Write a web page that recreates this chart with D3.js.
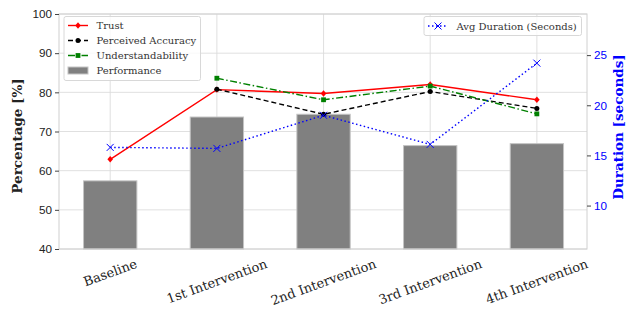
<!DOCTYPE html>
<html>
<head>
<meta charset="utf-8">
<script src="https://cdn.jsdelivr.net/npm/d3@7"></script>
<style>
  body { margin: 0; background: #fff; }
  svg { font-family: "DejaVu Serif", serif; }
</style>
</head>
<body>
<svg id="chart" width="627" height="309"></svg>
<script>
const categories = ["Baseline", "1st Intervention", "2nd Intervention", "3rd Intervention", "4th Intervention"]
const performance = [57.4, 73.7, 74.4, 66.4, 66.9]
const trust = [62.9, 80.7, 79.7, 82.0, 78.1]
const accuracy = [null, 80.8, 74.4, 80.2, 75.9]
const understand = [null, 83.6, 78.1, 81.6, 74.5]
const duration = [15.8, 15.7, 19.0, 16.1, 24.2]
const leftTicks = [40, 50, 60, 70, 80, 90, 100]
const rightTicks = [10, 15, 20, 25]

let svg = d3.select("#chart")
let L = 59, R = 587, T = 14, B = 249

let x = d3.scaleLinear().domain([-0.48, 4.47]).range([L, R])
let y = d3.scaleLinear().domain([40, 100]).range([B, T])
let y2 = d3.scaleLinear().domain([5.67, 29.1]).range([B, T])

//grid
let grid = svg.append("g").attr("stroke", "#dcdcdc").attr("stroke-width", 0.9)
grid.selectAll(".gy").data(leftTicks).enter().append("line")
  .attr("x1", L).attr("x2", R).attr("y1", d => y(d)).attr("y2", d => y(d))
grid.selectAll(".gx").data(categories).enter().append("line")
  .attr("x1", (d, i) => x(i)).attr("x2", (d, i) => x(i)).attr("y1", T).attr("y2", B)

//bars
let bw = x(0.5) - x(0)
svg.append("g").selectAll("rect").data(performance).enter().append("rect")
  .attr("x", (d, i) => x(i) - bw / 2)
  .attr("width", bw)
  .attr("y", d => y(d))
  .attr("height", d => y(40) - y(d))
  .attr("fill", "#808080")
  .attr("stroke", "#c4c4c4")
  .attr("stroke-width", 1)

//spines
svg.append("rect").attr("x", L).attr("y", T).attr("width", R - L).attr("height", B - T)
  .attr("fill", "none").attr("stroke", "#d0d0d0").attr("stroke-width", 1)

//axes
let leftAxis = svg.append("g").attr("transform", `translate(${L},0)`)
  .call(d3.axisLeft(y).tickValues(leftTicks).tickSize(4).tickPadding(3))
leftAxis.select(".domain").remove()
leftAxis.selectAll("line").attr("stroke", "#444")
leftAxis.selectAll("text").attr("fill", "#222").style("font-size", "11.7px")

let rightAxis = svg.append("g").attr("transform", `translate(${R},0)`)
  .call(d3.axisRight(y2).tickValues(rightTicks).tickSize(4).tickPadding(3))
rightAxis.select(".domain").remove()
rightAxis.selectAll("line").attr("stroke", "#444")
rightAxis.selectAll("text").attr("fill", "blue").style("font-size", "11.7px")

//x labels, rotated 20 deg, centred on tick
let xl = svg.append("g")
categories.forEach((c, i) => {
  let t = xl.append("text").text(c)
    .style("font-size", "13px").attr("fill", "#222")
    .attr("text-anchor", "middle").attr("dominant-baseline", "central")
  let w = t.node().getComputedTextLength()
  let a = 20 * Math.PI / 180
  let h = 13
  let cy = B + 8 + (w * Math.sin(a) + h * Math.cos(a)) / 2
  t.attr("transform", `translate(${x(i)},${cy}) rotate(-20)`)
})

//axis titles
svg.append("text").text("Percentage [%]")
  .attr("transform", "translate(21.5,136) rotate(-90)")
  .attr("text-anchor", "middle")
  .style("font-size", "13.5px").style("font-weight", "bold").attr("fill", "#222")
svg.append("text").text("Duration [seconds]")
  .attr("transform", "translate(623,127) rotate(-90)")
  .attr("text-anchor", "middle")
  .style("font-size", "13.5px").style("font-weight", "bold").attr("fill", "blue")

//markers
let marker = (g, type, color, cx, cy) => {
  if (type === "diamond") {
    g.append("path").attr("d", `M${cx},${cy - 3.2}L${cx + 2.8},${cy}L${cx},${cy + 3.2}L${cx - 2.8},${cy}Z`).attr("fill", color)
  } else if (type === "circle") {
    g.append("circle").attr("cx", cx).attr("cy", cy).attr("r", 2.5).attr("fill", color)
  } else if (type === "square") {
    g.append("rect").attr("x", cx - 2.4).attr("y", cy - 2.4).attr("width", 4.8).attr("height", 4.8).attr("fill", color)
  } else if (type === "x") {
    g.append("path").attr("d", `M${cx - 3.5},${cy - 3.5}L${cx + 3.5},${cy + 3.5}M${cx - 3.5},${cy + 3.5}L${cx + 3.5},${cy - 3.5}`)
      .attr("stroke", color).attr("stroke-width", 1).attr("fill", "none")
  }
}

let series = [
  {vals: trust, color: "red", dash: null, mk: "diamond", sc: y},
  {vals: accuracy, color: "black", dash: "5,3", mk: "circle", sc: y},
  {vals: understand, color: "green", dash: "7,2.5,1.5,2.5", mk: "square", sc: y},
  {vals: duration, color: "blue", dash: "1.5,2.5", mk: "x", sc: y2}
]
series.forEach(s => {
  let g = svg.append("g")
  let line = d3.line().defined(d => d !== null).x((d, i) => x(i)).y(d => s.sc(d))
  g.append("path").datum(s.vals).attr("d", line)
    .attr("fill", "none").attr("stroke", s.color).attr("stroke-width", 1.4)
    .attr("stroke-dasharray", s.dash)
  s.vals.forEach((v, i) => { if (v !== null) marker(g, s.mk, s.color, x(i), s.sc(v)) })
})

//legend left
let lg = svg.append("g")
lg.append("rect").attr("x", 64).attr("y", 16.5).attr("width", 136.5).attr("height", 64).attr("rx", 2)
  .attr("fill", "white").attr("fill-opacity", 0.8).attr("stroke", "#d8d8d8")
let entries = [
  {name: "Trust", s: series[0]},
  {name: "Perceived Accuracy", s: series[1]},
  {name: "Understandability", s: series[2]},
  {name: "Performance", s: null}
]
entries.forEach((e, i) => {
  let ey = 25.5 + i * 15
  if (e.s) {
    lg.append("line").attr("x1", 68).attr("x2", 88).attr("y1", ey).attr("y2", ey)
      .attr("stroke", e.s.color).attr("stroke-width", 1.4).attr("stroke-dasharray", e.s.dash)
    marker(lg, e.s.mk, e.s.color, 78, ey)
  } else {
    lg.append("rect").attr("x", 68).attr("y", ey - 3.5).attr("width", 20).attr("height", 7)
      .attr("fill", "#808080").attr("stroke", "#c4c4c4")
  }
  lg.append("text").text(e.name).attr("x", 96.5).attr("y", ey)
    .attr("dominant-baseline", "central").style("font-size", "10px").attr("fill", "#333")
})

//legend right
let rg = svg.append("g")
rg.append("rect").attr("x", 424).attr("y", 16.5).attr("width", 157.5).attr("height", 19).attr("rx", 2)
  .attr("fill", "white").attr("fill-opacity", 0.8).attr("stroke", "#d8d8d8")
rg.append("line").attr("x1", 428).attr("x2", 448).attr("y1", 26).attr("y2", 26)
  .attr("stroke", "blue").attr("stroke-width", 1.4).attr("stroke-dasharray", series[3].dash)
marker(rg, "x", "blue", 438, 26)
rg.append("text").text("Avg Duration (Seconds)").attr("x", 456.5).attr("y", 26)
  .attr("dominant-baseline", "central").style("font-size", "10px").attr("fill", "#333")
</script>
</body>
</html>
